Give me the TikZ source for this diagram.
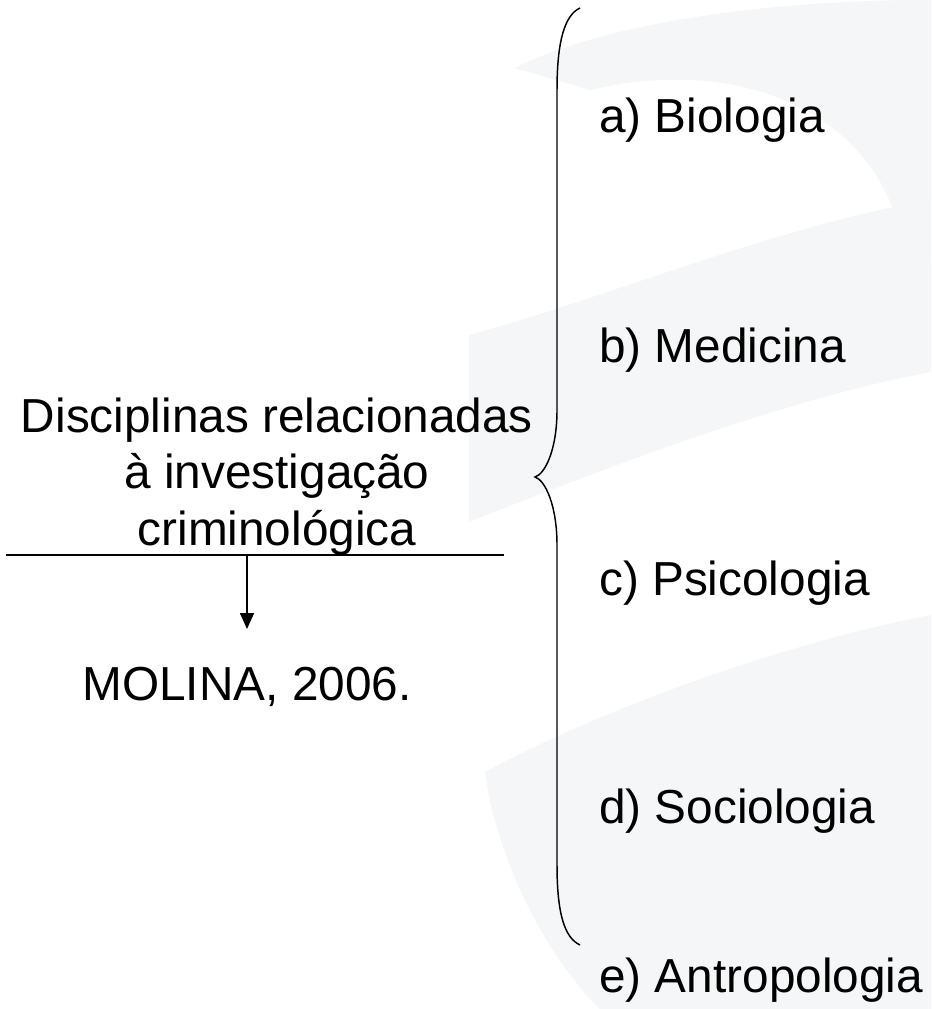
\documentclass[tikz,border=0pt]{standalone}
\usepackage{fontspec}
\setmainfont{Liberation Sans}
\usetikzlibrary{arrows.meta}
\definecolor{wm}{RGB}{244,246,247}
\begin{document}
\begin{tikzpicture}[x=0.75pt,y=-0.75pt,
  lbl/.style={inner sep=0pt,font=\fontsize{35.8}{42}\selectfont},
  rule/.style={line width=1.2pt},
  brace/.style={line width=1.1pt},
  wmark/.style={fill=wm,draw=none}]
\useasboundingbox[fill=white] (0,0) rectangle (931,1009);
% faint watermark
\path[wmark] (515,68) .. controls (600,25) and (760,0) .. (931,0) -- (931,262) -- (903,252) .. controls (890,130) and (760,50) .. (590,90) -- cycle;
\path[wmark] (469,335) .. controls (600,300) and (780,225) .. (931,200) -- (931,372) .. controls (780,400) and (600,470) .. (469,522) -- cycle;
\path[wmark] (485,772) .. controls (620,700) and (800,640) .. (931,615) -- (931,1009) -- (600,1009) .. controls (540,950) and (495,850) .. (485,772) -- cycle;
% brace
\draw[brace] (580,8) .. controls (565,15) and (557,40) .. (557,90) -- (557,410) .. controls (557,450) and (545,474) .. (535,477) .. controls (545,480) and (557,505) .. (557,545) -- (557,865) .. controls (557,915) and (565,938) .. (580,945);
% left block
\node[lbl,anchor=base] (t1) at (277,432) {Disciplinas relacionadas};
\node[lbl,anchor=base] (t2) at (277,488) {à investigação};
\node[lbl,anchor=base] (t3) at (277,545) {criminológica};
\coordinate (hl0) at (6,555);
\coordinate (hl1) at (504,555);
\coordinate (hlm) at (247,555);
\coordinate (tip) at (247,629);
\draw[rule] (hl0) -- (hl1);
\draw[rule,-{Triangle[length=12pt,width=10.5pt]}] (hlm) -- (tip);
\node[lbl,anchor=base] (mol) at (247,700) {MOLINA, 2006.};
% right labels
\node[lbl,anchor=base west] (a) at (599,133) {a) Biologia};
\node[lbl,anchor=base west] (b) at (599,362) {b) Medicina};
\node[lbl,anchor=base west] (c) at (599,595) {c) Psicologia};
\node[lbl,anchor=base west] (d) at (599,823) {d) Sociologia};
\node[lbl,anchor=base west] (e) at (599,992) {e) Antropologia};
\end{tikzpicture}
\end{document}
